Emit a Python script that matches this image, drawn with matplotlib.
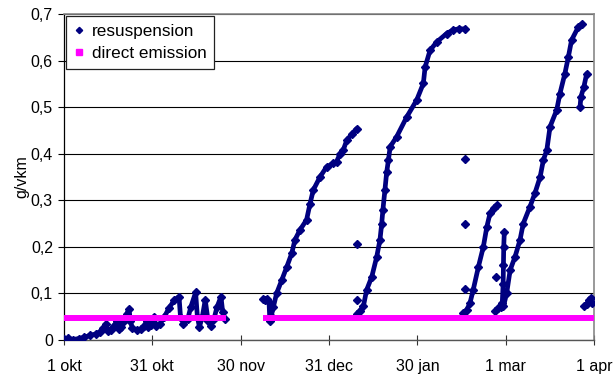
import matplotlib
matplotlib.use("Agg")
import matplotlib.pyplot as plt
from matplotlib.lines import Line2D
import numpy as np

plt.rcParams['font.family'] = ['Liberation Sans', 'DejaVu Sans']

# ---- data (x = days since 1 okt, y = g/vkm) ----
oct_day = [0.0, 1.5, 3, 5, 7, 9, 11, 12.5, 13.5, 14.5, 15, 16, 17, 18.3, 18.8, 19.5, 20.5,
           21.5, 22.3, 22.8, 23.5, 25, 26.5, 27.5, 28.5, 29, 30, 31, 31.5, 33, 34.5, 36,
           37.8, 39.5, 40, 41, 42.5, 43.5, 45.2, 45.8, 46.5, 47.5, 48.5, 49.5, 50.5, 51.5,
           52.5, 53.9, 54.5, 55.2]
oct_val = [0.002, 0.004, 0.001, 0.003, 0.006, 0.010, 0.013, 0.018, 0.026, 0.034, 0.020,
           0.022, 0.030, 0.040, 0.024, 0.028, 0.040, 0.055, 0.067, 0.040, 0.025, 0.022,
           0.024, 0.030, 0.040, 0.028, 0.032, 0.050, 0.030, 0.035, 0.050, 0.068, 0.085,
           0.093, 0.050, 0.035, 0.045, 0.070, 0.102, 0.050, 0.028, 0.050, 0.086, 0.040,
           0.030, 0.045, 0.070, 0.093, 0.060, 0.045]

dec_day = [68.3, 69.0, 69.8, 70.4, 70.7, 71.2, 71.9, 73.0, 74.8, 76.5, 78.2, 79.3, 81.0,
           83.3, 84.5, 85.6, 87.9, 90.2, 92.5, 93.6, 94.8, 95.9, 97.1, 98.8, 100.5]
dec_val = [0.088, 0.085, 0.087, 0.082, 0.040, 0.052, 0.071, 0.100, 0.129, 0.157, 0.186,
           0.215, 0.236, 0.258, 0.293, 0.322, 0.350, 0.372, 0.379, 0.383, 0.400, 0.408,
           0.429, 0.442, 0.454]

jan_day = [100.5, 101.5, 102.8, 103.9, 105.7, 107.4, 108.5, 109.1, 109.5, 110.2, 110.8,
           111.4, 112.0, 114.2, 117.7, 121.1, 123.4, 124.0, 125.7, 128.0, 131.4, 133.7,
           135.5, 137.7]
jan_val = [0.056, 0.062, 0.072, 0.107, 0.136, 0.179, 0.215, 0.250, 0.279, 0.322, 0.360,
           0.386, 0.415, 0.436, 0.479, 0.515, 0.551, 0.586, 0.622, 0.640, 0.658, 0.666,
           0.668, 0.668]

feb_day = [137.1, 138.3, 139.4, 140.5, 142.3, 144.0, 145.2, 146.3, 147.5, 148.6]
feb_val = [0.057, 0.065, 0.079, 0.107, 0.157, 0.200, 0.243, 0.272, 0.283, 0.290]

spike_day = [148.0, 149.0, 150.0, 150.5, 150.8, 150.9, 151.0, 151.2]
spike_val = [0.062, 0.068, 0.070, 0.080, 0.120, 0.160, 0.200, 0.232]

mar_day = [150.9, 152.0, 153.2, 154.9, 156.6, 157.7, 160.0, 161.7, 163.5, 164.6, 165.8,
           166.9, 169.2, 170.3, 172.0, 173.2, 174.3, 176.6, 177.8]
mar_val = [0.072, 0.100, 0.150, 0.179, 0.215, 0.250, 0.286, 0.315, 0.350, 0.386, 0.408,
           0.458, 0.494, 0.529, 0.572, 0.608, 0.644, 0.672, 0.679]

late_day = [177.2, 177.5, 178.5, 179.5]
late_val = [0.500, 0.522, 0.543, 0.572]

end_day = [178.5, 179.5, 180.3, 181.0, 181.3]
end_val = [0.072, 0.078, 0.085, 0.090, 0.080]

single_day = [100.5, 100.5, 137.7, 137.7, 137.7, 148.4]
single_val = [0.207, 0.086, 0.388, 0.249, 0.109, 0.136]

emis_start = [0.0, 68.2]
emis_end = [55.5, 182.0]
emis_val = 0.048

tick_pos = [0, 30.33, 60.67, 91, 121.33, 151.67, 182]
tick_lab = ['1 okt', '31 okt', '30 nov', '31 dec', '30 jan', '1 mar', '1 apr']
ytick_pos = [0, 0.1, 0.2, 0.3, 0.4, 0.5, 0.6, 0.7]
ytick_lab = ['0', '0,1', '0,2', '0,3', '0,4', '0,5', '0,6', '0,7']

# ---- figure ----
W, H = 613, 378
fig = plt.figure(figsize=(W / 100, H / 100), dpi=100)
ax = fig.add_axes([64 / W, (H - 340) / H, 530 / W, 326 / H])

blue = '#000080'
pink = '#FF00FF'
segs = [(oct_day, oct_val), (dec_day, dec_val), (jan_day, jan_val), (feb_day, feb_val),
        (spike_day, spike_val), (mar_day, mar_val), (late_day, late_val), (end_day, end_val)]
for d, v in segs:
    ax.plot(d, v, color=blue, lw=3.4, marker='D', ms=4.2, mec=blue, mfc=blue,
            solid_joinstyle='round', solid_capstyle='round', zorder=3)
ax.plot(single_day, single_val, ls='none', marker='D', ms=4.2, color=blue, zorder=3)

for s, e in zip(emis_start, emis_end):
    ax.plot([s, e], [emis_val, emis_val], color=pink, lw=4.3, solid_capstyle='butt', zorder=4)

ax.set_xlim(0, 182)
ax.set_ylim(0, 0.7)
ax.set_xticks(tick_pos)
ax.set_xticklabels(tick_lab)
ax.set_yticks(ytick_pos)
ax.set_yticklabels(ytick_lab)
ax.tick_params(axis='x', direction='inout', length=7, width=0.8, color='#333333',
               labelsize=11.5, pad=10)
ax.tick_params(axis='y', direction='out', length=4, width=0.8, color='black',
               labelsize=11.5, pad=4)
ax.grid(axis='y', color='black', lw=0.8, zorder=1)
ax.set_axisbelow(True)
for side in ['top', 'right']:
    ax.spines[side].set_color('#888888')
    ax.spines[side].set_linewidth(1.2)
ax.spines['left'].set_color('black')
ax.spines['left'].set_linewidth(0.9)
ax.spines['bottom'].set_color('#555555')
ax.spines['bottom'].set_linewidth(1.0)

ax.set_ylabel('g/vkm', fontsize=11.5)
ax.yaxis.set_label_coords(-0.066, 0.5)

handles = [Line2D([], [], ls='none', marker='D', ms=3.2, color=blue),
           Line2D([], [], ls='none', marker='s', ms=4.5, color=pink)]
leg = ax.legend(handles, ['resuspension', 'direct emission'], loc='upper left',
                bbox_to_anchor=(0.004, 0.994), borderaxespad=0, fontsize=12.3,
                frameon=True, fancybox=False, framealpha=1, edgecolor='#222222',
                handlelength=0.6, handletextpad=0.45, borderpad=0.45, labelspacing=0.45)
leg.get_frame().set_linewidth(0.9)
leg.set_zorder(5)

fig.savefig('out.png', dpi=100)
